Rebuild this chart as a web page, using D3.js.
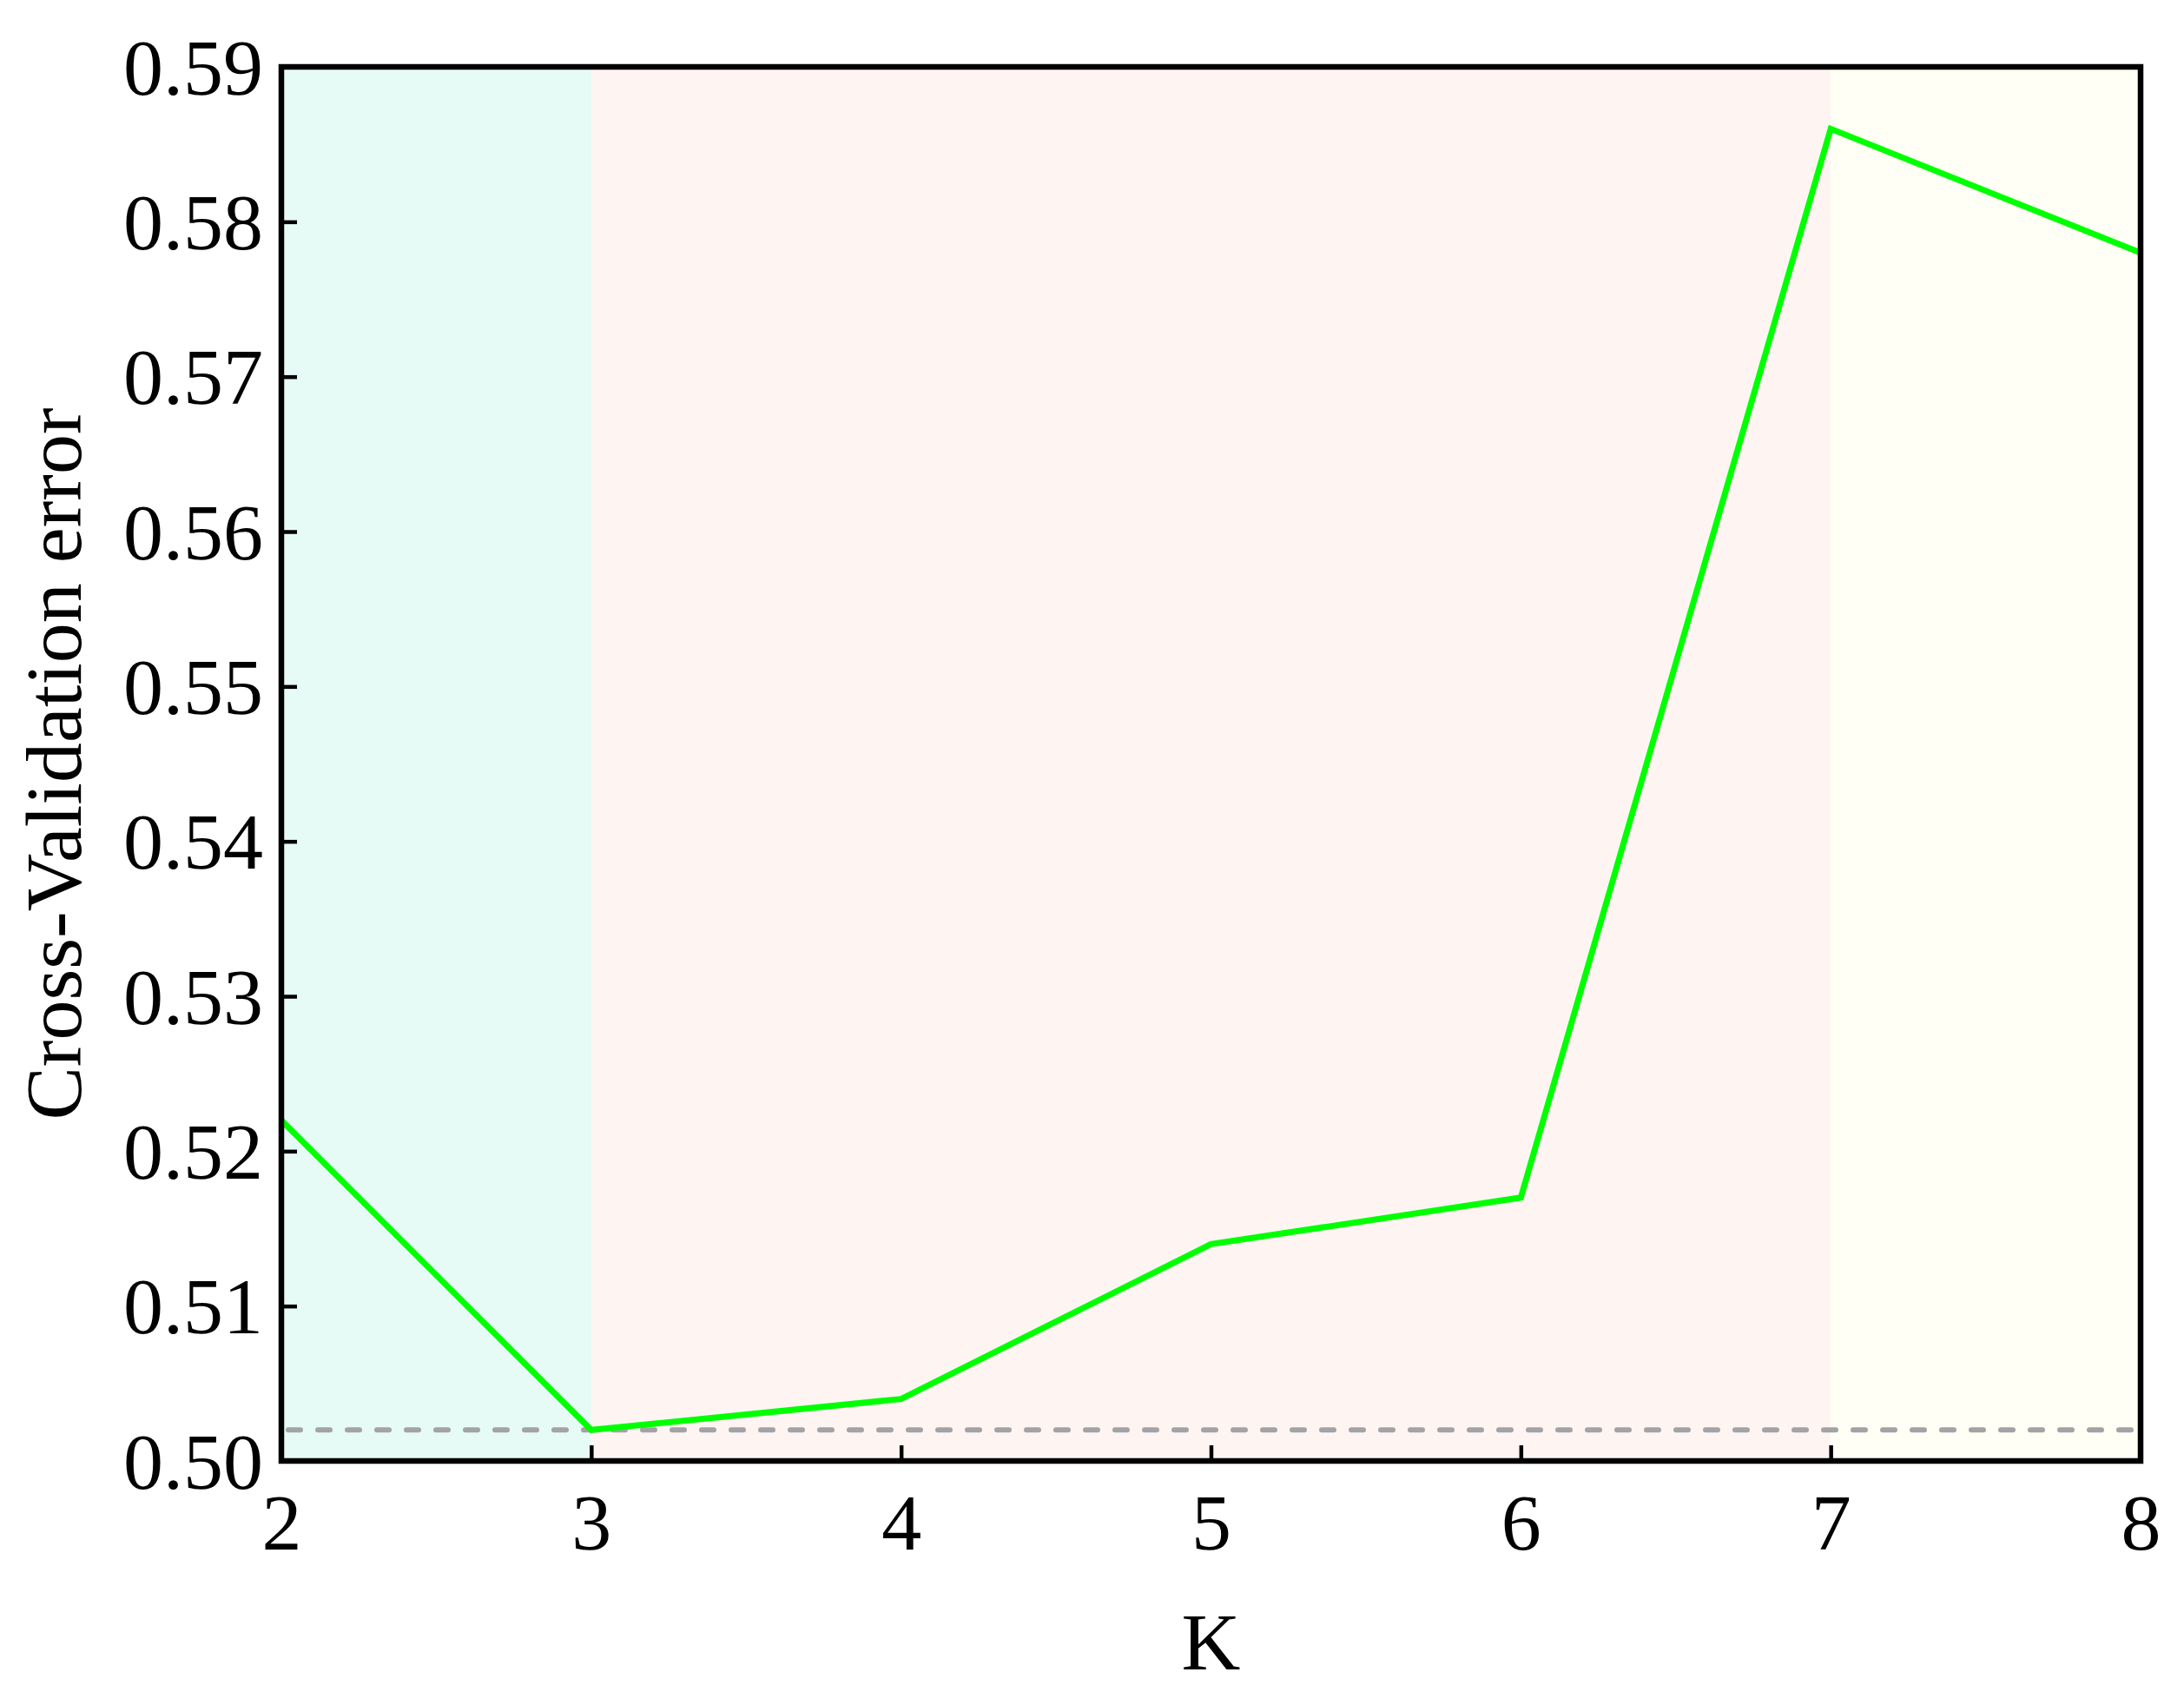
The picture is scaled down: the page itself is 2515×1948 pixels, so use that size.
<!DOCTYPE html>
<html>
<head>
<meta charset="utf-8">
<script src="https://cdn.jsdelivr.net/npm/d3@7"></script>
<style>
  body { margin: 0; background: #fff; }
</style>
</head>
<body>
<svg id="chart"></svg>
<script>
// values
const kValues = [2, 3, 4, 5, 6, 7, 8];
const cvError = [0.522, 0.502, 0.504, 0.514, 0.517, 0.586, 0.578];
const yTicks = [0.50, 0.51, 0.52, 0.53, 0.54, 0.55, 0.56, 0.57, 0.58, 0.59];
const bands = [
    { from: 2, to: 3, color: "#e7fbf6" },
    { from: 3, to: 7, color: "#fef5f3" },
    { from: 7, to: 8, color: "#fffff5" }
];
const minError = d3.min(cvError);

// pick a Times-like face that is really installed
function pickFont(candidates) {
    const ctx = document.createElement("canvas").getContext("2d");
    const sample = "0.59 Cross-Validation error K";
    ctx.font = "60px monospace";
    const base = ctx.measureText(sample).width;
    for (const f of candidates) {
        ctx.font = `60px "${f}", monospace`;
        if (Math.abs(ctx.measureText(sample).width - base) > 0.5) return f;
    }
    return "serif";
}
const FONT = pickFont(["Liberation Serif", "Times New Roman", "Tinos", "Nimbus Roman",
    "Nimbus Roman No9 L", "FreeSerif", "Noto Serif", "DejaVu Serif Condensed", "DejaVu Serif"]);
// DejaVu faces run wider than Times, so shrink them a little
const condensed = FONT.startsWith("DejaVu");
const fs = condensed ? 80 : 92;

const WIDTH = 2515, HEIGHT = 1948;
const margin = { left: 324, right: 50, top: 77, bottom: 266 };

const svg = d3.select("#chart")
    .attr("width", WIDTH)
    .attr("height", HEIGHT)
    .style("font-family", `"${FONT}", serif`);

const x = d3.scaleLinear()
    .domain([2, 8])
    .range([margin.left, WIDTH - margin.right]);

const y = d3.scaleLinear()
    .domain([0.50, 0.59])
    .range([HEIGHT - margin.bottom, margin.top]);

// background bands
svg.selectAll("rect.band")
    .data(bands)
    .enter()
    .append("rect")
    .attr("class", "band")
    .attr("x", d => x(d.from))
    .attr("y", y(0.59))
    .attr("width", d => x(d.to) - x(d.from))
    .attr("height", y(0.50) - y(0.59))
    .style("fill", d => d.color);

// reference line at the minimum
svg.append("line")
    .attr("x1", x(2) + 8)
    .attr("x2", x(8) - 4)
    .attr("y1", y(minError))
    .attr("y2", y(minError))
    .style("stroke", "#a3a3a6")
    .style("stroke-width", 6)
    .style("stroke-linecap", "round")
    .style("stroke-dasharray", "14,20");

// the error curve
const line = d3.line()
    .x((d, i) => x(kValues[i]))
    .y(d => y(d));

svg.append("path")
    .datum(cvError)
    .attr("d", line)
    .style("fill", "none")
    .style("stroke", "#00ff00")
    .style("stroke-width", 7)
    .style("stroke-linejoin", "miter");

// axes with inward ticks
const xAxis = svg.append("g")
    .attr("transform", `translate(0,${y(0.50)})`)
    .call(d3.axisBottom(x).tickValues(kValues).tickFormat(d3.format("d"))
        .tickSizeInner(-18).tickSizeOuter(0).tickPadding(36));

const yAxis = svg.append("g")
    .attr("transform", `translate(${x(2)},0)`)
    .call(d3.axisLeft(y).tickValues(yTicks).tickFormat(d3.format(".2f"))
        .tickSizeInner(-18).tickSizeOuter(0).tickPadding(21));

[xAxis, yAxis].forEach(g => {
    g.attr("font-family", null).attr("font-size", null);
    g.select(".domain").remove();
    g.selectAll(".tick line").style("stroke", "#000").style("stroke-width", 4.5);
    g.selectAll(".tick text")
        .style("fill", "#000")
        .style("font-size", fs + "px");
});
yAxis.selectAll(".tick text").attr("dy", "0.34em");
xAxis.selectAll(".tick text").attr("dy", "0.72em");

// frame
svg.append("rect")
    .attr("x", x(2))
    .attr("y", y(0.59))
    .attr("width", x(8) - x(2))
    .attr("height", y(0.50) - y(0.59))
    .style("fill", "none")
    .style("stroke", "#000")
    .style("stroke-width", 6.5);

// axis titles
svg.append("text")
    .attr("x", (x(2) + x(8)) / 2)
    .attr("y", 1922)
    .attr("text-anchor", "middle")
    .style("font-size", (fs + 2) + "px")
    .text("K");

svg.append("text")
    .attr("transform", `translate(93,${(y(0.50) + y(0.59)) / 2}) rotate(-90)`)
    .attr("text-anchor", "middle")
    .style("font-size", fs + "px")
    .text("Cross-Validation error");
</script>
</body>
</html>
